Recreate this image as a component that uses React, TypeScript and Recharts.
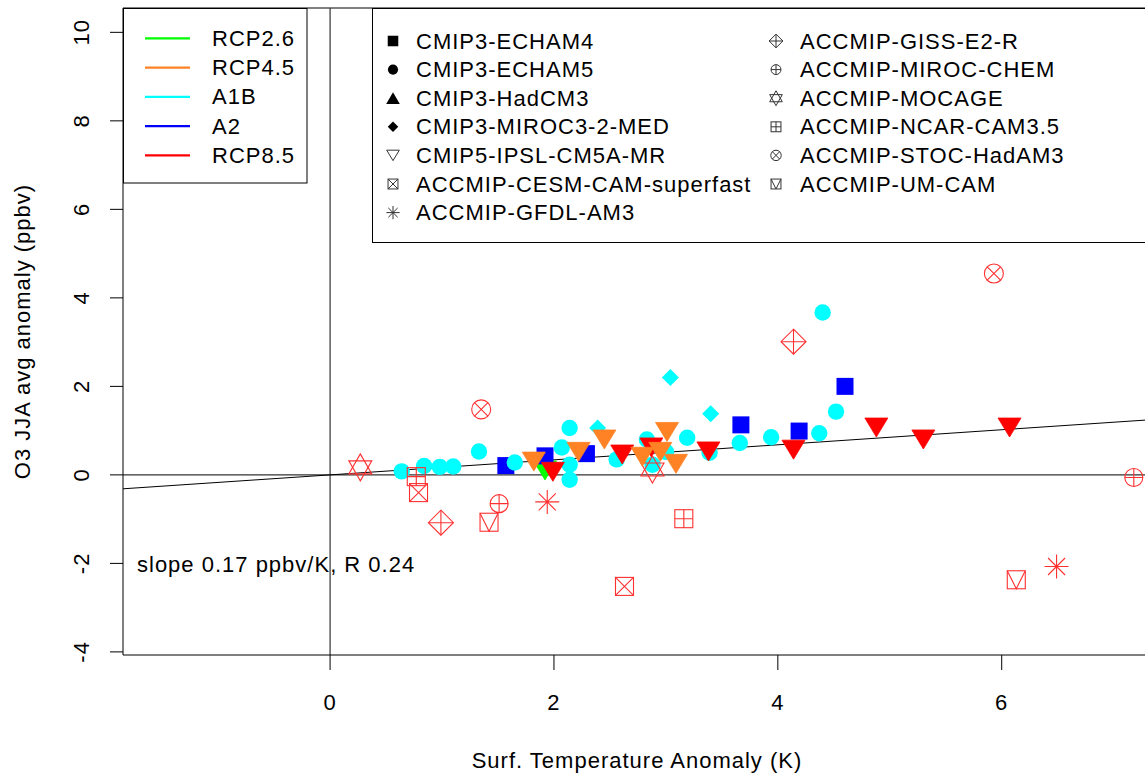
import React from "react";
import { ScatterChart, Scatter, XAxis, YAxis, ReferenceLine, Label } from "recharts";

const W = 1145;
const H = 773;
const FONT = "'Liberation Sans', Arial, Helvetica, sans-serif";

const xDomain = [-1.85, 7.28];
const yDomain = [-4.07, 10.55];
const xTicks = [0, 2, 4, 6];
const yTicks = [-4, -2, 0, 2, 4, 6, 8, 10];
const fitSlope = 0.17;
const fitR = 0.24;

// CMIP3 runs
const a1bEcham5X = [0.64, 0.84, 0.98, 1.1, 1.33, 1.65, 2.07, 2.14, 2.14, 2.14, 2.56, 2.83, 2.88, 3.0, 3.19, 3.39, 3.66, 3.94, 4.37, 4.52, 4.4];
const a1bEcham5Y = [0.08, 0.2, 0.18, 0.19, 0.53, 0.28, 0.62, 1.06, 0.23, -0.11, 0.35, 0.8, 0.23, 0.52, 0.84, 0.5, 0.72, 0.85, 0.94, 1.43, 3.67];
const a1bMirocX = [2.39, 3.04, 3.4];
const a1bMirocY = [1.06, 2.2, 1.38];
const a2Echam4X = [1.57, 1.92, 2.29, 3.67, 4.19, 4.6];
const a2Echam4Y = [0.21, 0.43, 0.48, 1.13, 0.99, 2.0];

// CMIP5 IPSL runs
const rcp26IpslX = [1.92];
const rcp26IpslY = [0.1];
const rcp45IpslX = [1.82, 2.22, 2.45, 2.79, 2.95, 3.01, 3.09];
const rcp45IpslY = [0.3, 0.52, 0.8, 0.41, 0.52, 0.97, 0.25];
const rcp85IpslX = [1.99, 2.61, 2.87, 3.38, 4.14, 4.88, 5.3, 6.07];
const rcp85IpslY = [0.07, 0.46, 0.62, 0.53, 0.57, 1.07, 0.8, 1.07];

// ACCMIP (RCP8.5)
const cesmX = [0.79, 2.63];
const cesmY = [-0.4, -2.52];
const gfdlX = [1.94, 6.49];
const gfdlY = [-0.61, -2.07];
const gissX = [0.99, 4.14];
const gissY = [-1.08, 3.01];
const mirocChemX = [1.51, 7.18];
const mirocChemY = [-0.65, -0.06];
const mocageX = [0.27, 2.88];
const mocageY = [0.17, 0.12];
const ncarX = [0.77, 3.16];
const ncarY = [-0.04, -0.99];
const stocX = [1.35, 5.93];
const stocY = [1.48, 4.55];
const umcamX = [1.42, 6.13];
const umcamY = [-1.07, -2.37];

const scenarioNames = ["RCP2.6", "RCP4.5", "A1B", "A2", "RCP8.5"];
const scenarioColors = ["#00ff00", "#ff8224", "#00ffff", "#0000ff", "#ff0000"];
const openRed = "#ff3030";

const modelNames = [
  "CMIP3-ECHAM4", "CMIP3-ECHAM5", "CMIP3-HadCM3", "CMIP3-MIROC3-2-MED", "CMIP5-IPSL-CM5A-MR",
  "ACCMIP-CESM-CAM-superfast", "ACCMIP-GFDL-AM3", "ACCMIP-GISS-E2-R", "ACCMIP-MIROC-CHEM",
  "ACCMIP-MOCAGE", "ACCMIP-NCAR-CAM3.5", "ACCMIP-STOC-HadAM3", "ACCMIP-UM-CAM",
];
const modelKinds: Kind[] = [
  "square", "circle", "triUp", "diamond", "triDownOpen",
  "boxX", "asterisk", "diamondPlus", "circlePlus",
  "star", "boxPlus", "circleX", "boxV",
];

type Kind =
  | "square" | "circle" | "diamond" | "triUp" | "triDown" | "triDownOpen" | "boxX" | "asterisk"
  | "diamondPlus" | "circlePlus" | "star" | "boxPlus" | "circleX" | "boxV";

const pts = (xs: number[], ys: number[]) => xs.map((x, i) => ({ x, y: ys[i] }));

function Glyph({ kind, cx, cy, s, color, sw }: { kind: Kind; cx: number; cy: number; s: number; color: string; sw: number }) {
  const line = { fill: "none", stroke: color, strokeWidth: sw };
  switch (kind) {
    case "square": {
      const h = 8.5 * s;
      return <rect x={cx - h} y={cy - h} width={2 * h} height={2 * h} fill={color} />;
    }
    case "circle":
      return <circle cx={cx} cy={cy} r={8.2 * s} fill={color} />;
    case "diamond": {
      const h = 8.5 * s;
      return <polygon points={`${cx},${cy - h} ${cx + h},${cy} ${cx},${cy + h} ${cx - h},${cy}`} fill={color} />;
    }
    case "triUp": {
      const w = 11 * s, h = 9.5 * s;
      return <polygon points={`${cx - w},${cy + h} ${cx + w},${cy + h} ${cx},${cy - h}`} fill={color} />;
    }
    case "triDown": {
      const w = 11.5 * s, h = 9.5 * s;
      return <polygon points={`${cx - w},${cy - h} ${cx + w},${cy - h} ${cx},${cy + h}`} fill={color} stroke={color} strokeWidth={0.8} />;
    }
    case "triDownOpen": {
      const w = 11.5 * s, h = 9.5 * s;
      return <polygon points={`${cx - w},${cy - h} ${cx + w},${cy - h} ${cx},${cy + h}`} {...line} />;
    }
    case "boxX": {
      const h = 9 * s;
      return (
        <g {...line}>
          <rect x={cx - h} y={cy - h} width={2 * h} height={2 * h} />
          <path d={`M${cx - h},${cy - h}L${cx + h},${cy + h}M${cx + h},${cy - h}L${cx - h},${cy + h}`} />
        </g>
      );
    }
    case "asterisk": {
      const h = 12 * s, d = 8.5 * s;
      return (
        <path
          d={`M${cx - h},${cy}L${cx + h},${cy}M${cx},${cy - h}L${cx},${cy + h}M${cx - d},${cy - d}L${cx + d},${cy + d}M${cx + d},${cy - d}L${cx - d},${cy + d}`}
          {...line}
        />
      );
    }
    case "diamondPlus": {
      const h = 12.5 * s;
      return (
        <g {...line}>
          <polygon points={`${cx},${cy - h} ${cx + h},${cy} ${cx},${cy + h} ${cx - h},${cy}`} />
          <path d={`M${cx - h},${cy}L${cx + h},${cy}M${cx},${cy - h}L${cx},${cy + h}`} />
        </g>
      );
    }
    case "circlePlus": {
      const r = 9 * s;
      return (
        <g {...line}>
          <circle cx={cx} cy={cy} r={r} />
          <path d={`M${cx - r},${cy}L${cx + r},${cy}M${cx},${cy - r}L${cx},${cy + r}`} />
        </g>
      );
    }
    case "star": {
      const w = 11.5 * s, a = 13.5 * s, b = 6.5 * s;
      return (
        <g {...line}>
          <polygon points={`${cx},${cy - a} ${cx + w},${cy + b} ${cx - w},${cy + b}`} />
          <polygon points={`${cx},${cy + a} ${cx + w},${cy - b} ${cx - w},${cy - b}`} />
        </g>
      );
    }
    case "boxPlus": {
      const h = 9 * s;
      return (
        <g {...line}>
          <rect x={cx - h} y={cy - h} width={2 * h} height={2 * h} />
          <path d={`M${cx - h},${cy}L${cx + h},${cy}M${cx},${cy - h}L${cx},${cy + h}`} />
        </g>
      );
    }
    case "circleX": {
      const r = 9.5 * s, d = 6.7 * s;
      return (
        <g {...line}>
          <circle cx={cx} cy={cy} r={r} />
          <path d={`M${cx - d},${cy - d}L${cx + d},${cy + d}M${cx + d},${cy - d}L${cx - d},${cy + d}`} />
        </g>
      );
    }
    case "boxV": {
      const h = 9 * s;
      return (
        <g {...line}>
          <rect x={cx - h} y={cy - h} width={2 * h} height={2 * h} />
          <path d={`M${cx - h},${cy - h}L${cx},${cy + h}L${cx + h},${cy - h}`} />
        </g>
      );
    }
  }
  return null;
}

const shapeOf = (kind: Kind, color: string) => (p: any) =>
  <Glyph kind={kind} cx={p.cx} cy={p.cy} s={1} color={color} sw={1.1} />;

const YTick = (p: any) => {
  const cx = p.x - 26;
  return (
    <text x={cx} y={p.y} transform={`rotate(-90 ${cx} ${p.y})`} textAnchor="middle" dominantBaseline="central"
      fontSize={22} letterSpacing={1} fontFamily={FONT} fill="#000">
      {p.payload.value}
    </text>
  );
};

const series: { name: string; xs: number[]; ys: number[]; kind: Kind; color: string }[] = [
  { name: "RCP2.6 IPSL", xs: rcp26IpslX, ys: rcp26IpslY, kind: "triDown", color: scenarioColors[0] },
  { name: "A2 ECHAM4", xs: a2Echam4X, ys: a2Echam4Y, kind: "square", color: scenarioColors[3] },
  { name: "A1B ECHAM5", xs: a1bEcham5X, ys: a1bEcham5Y, kind: "circle", color: scenarioColors[2] },
  { name: "A1B MIROC", xs: a1bMirocX, ys: a1bMirocY, kind: "diamond", color: scenarioColors[2] },
  { name: "RCP8.5 IPSL", xs: rcp85IpslX, ys: rcp85IpslY, kind: "triDown", color: scenarioColors[4] },
  { name: "CESM", xs: cesmX, ys: cesmY, kind: "boxX", color: openRed },
  { name: "GFDL", xs: gfdlX, ys: gfdlY, kind: "asterisk", color: openRed },
  { name: "GISS", xs: gissX, ys: gissY, kind: "diamondPlus", color: openRed },
  { name: "MIROC-CHEM", xs: mirocChemX, ys: mirocChemY, kind: "circlePlus", color: openRed },
  { name: "MOCAGE", xs: mocageX, ys: mocageY, kind: "star", color: openRed },
  { name: "NCAR", xs: ncarX, ys: ncarY, kind: "boxPlus", color: openRed },
  { name: "STOC", xs: stocX, ys: stocY, kind: "circleX", color: openRed },
  { name: "UM-CAM", xs: umcamX, ys: umcamY, kind: "boxV", color: openRed },
  { name: "RCP4.5 IPSL", xs: rcp45IpslX, ys: rcp45IpslY, kind: "triDown", color: scenarioColors[1] },
];

function Overlay() {
  const txt = { fontSize: 22, letterSpacing: 1, fontFamily: FONT, fill: "#000" };
  return (
    <svg width={W} height={H} style={{ position: "absolute", left: 0, top: 0, pointerEvents: "none" }}>
      {/* scenario legend */}
      <rect x={123.5} y={8.5} width={183.5} height={174.5} fill="#fff" stroke="#000" strokeWidth={1} />
      {scenarioNames.map((n, i) => {
        const y = 38.3 + i * 29.25;
        return (
          <g key={n}>
            <line x1={145} x2={190} y1={y} y2={y} stroke={scenarioColors[i]} strokeWidth={2.2} />
            <text x={212} y={y} dominantBaseline="central" {...txt}>{n}</text>
          </g>
        );
      })}
      {/* model legend */}
      <rect x={372.5} y={8.5} width={800} height={234} fill="#fff" stroke="#000" strokeWidth={1} />
      {modelNames.map((n, i) => {
        const col = i < 7 ? 0 : 1;
        const row = col === 0 ? i : i - 7;
        const y = 41 + row * 28.6;
        const sx = col === 0 ? 393 : 776;
        const tx = col === 0 ? 416 : 800;
        const kind = modelKinds[i];
        const filled = i < 4;
        return (
          <g key={n}>
            <Glyph kind={kind} cx={sx} cy={y} s={filled ? 0.62 : 0.55} color={filled ? "#000" : "#333"} sw={1} />
            <text x={tx} y={y} dominantBaseline="central" {...txt}>{n}</text>
          </g>
        );
      })}
      <text x={137} y={564} dominantBaseline="central" {...txt}>
        {`slope ${fitSlope.toFixed(2)} ppbv/K, R ${fitR.toFixed(2)}`}
      </text>
    </svg>
  );
}

export default function App() {
  return (
    <div style={{ position: "absolute", left: 0, top: 0, width: W, height: H, background: "#fff", fontFamily: FONT }}>
      <ScatterChart width={W} height={H} margin={{ top: 8, right: 0, bottom: 0, left: 0 }}>
        <XAxis
          type="number" dataKey="x" domain={xDomain} ticks={xTicks} allowDataOverflow
          height={118} tickSize={15} tickMargin={24} stroke="#000"
          tick={{ fontSize: 22, letterSpacing: 1, fill: "#000", fontFamily: FONT }}
        >
          <Label
            content={(p: any) => {
              const vb = p.viewBox;
              return (
                <text x={vb.x + vb.width / 2 + 3} y={vb.y + vb.height - 5} textAnchor="middle"
                  fontSize={22} letterSpacing={1} fontFamily={FONT} fill="#000">
                  Surf. Temperature Anomaly (K)
                </text>
              );
            }}
          />
        </XAxis>
        <YAxis
          type="number" dataKey="y" domain={yDomain} ticks={yTicks} allowDataOverflow
          width={123} tickSize={13} stroke="#000" tick={YTick}
        >
          <Label
            content={(p: any) => {
              const vb = p.viewBox;
              const cx = vb.x + 22;
              const cy = vb.y + vb.height / 2;
              return (
                <text x={cx} y={cy} transform={`rotate(-90 ${cx} ${cy})`} textAnchor="middle" dominantBaseline="central"
                  fontSize={22} letterSpacing={1} fontFamily={FONT} fill="#000">
                  O3 JJA avg anomaly (ppbv)
                </text>
              );
            }}
          />
        </YAxis>
        <ReferenceLine y={yDomain[1]} stroke="#000" strokeWidth={1} />
        <ReferenceLine x={0} stroke="#333" strokeWidth={1.2} />
        <ReferenceLine y={0} stroke="#333" strokeWidth={1.2} />
        {series.map((s) => (
          <Scatter key={s.name} name={s.name} data={pts(s.xs, s.ys)} shape={shapeOf(s.kind, s.color)} isAnimationActive={false} />
        ))}
        <ReferenceLine
          segment={[
            { x: xDomain[0], y: fitSlope * xDomain[0] },
            { x: xDomain[1], y: fitSlope * xDomain[1] },
          ]}
          stroke="#000"
          strokeWidth={1}
        />
      </ScatterChart>
      <Overlay />
    </div>
  );
}
